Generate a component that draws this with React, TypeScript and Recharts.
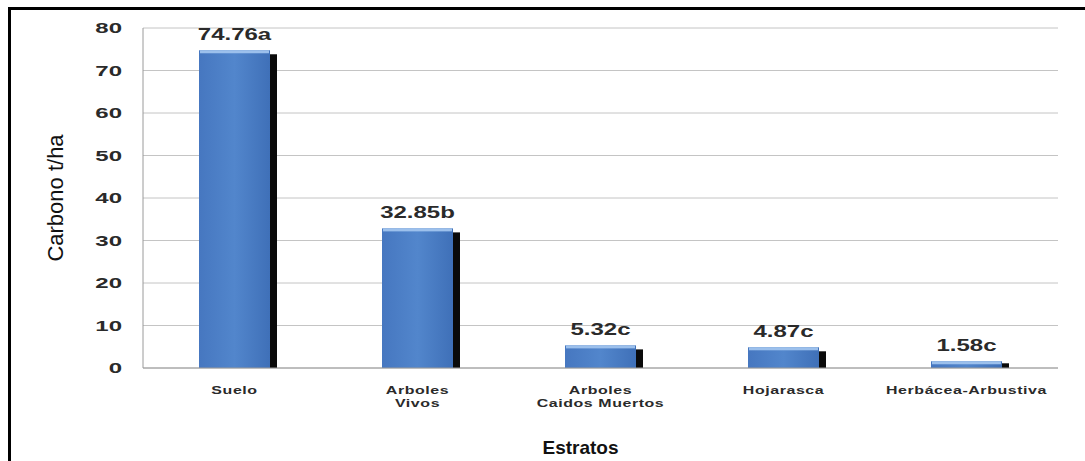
import React from 'react';
import { BarChart, Bar, XAxis, YAxis, CartesianGrid, LabelList } from 'recharts';

const categories = ['Suelo', 'Arboles\nVivos', 'Arboles\nCaidos Muertos', 'Hojarasca', 'Herbácea-Arbustiva'];
const carbono = [74.76, 32.85, 5.32, 4.87, 1.58];
const letters = ['a', 'b', 'c', 'c', 'c'];
const yTicks = [0, 10, 20, 30, 40, 50, 60, 70, 80];

const data = categories.map((c, i) => ({ cat: c, value: carbono[i], label: `${carbono[i].toFixed(2)}${letters[i]}` }));

const FONT = 'Liberation Sans, Arial, sans-serif';

const BarShape = (props: any) => {
  const { x, y, width, height } = props;
  if (height <= 0) return null;
  const sh = Math.min(4, height * 0.3);
  return (
    <g>
      <rect x={x + 7} y={y + sh} width={width} height={height - sh} fill="#0a0a0a" />
      <rect x={x} y={y} width={width} height={height} fill="url(#barGrad)" />
      <rect x={x + 1} y={y} width={width - 2} height={Math.min(3, height)} fill="#9cc0ec" />
    </g>
  );
};

const XTick = (props: any) => {
  const { x, y, payload } = props;
  const lines = String(payload.value).split('\n');
  return (
    <g transform={`translate(${x},${y}) scale(1.45,1)`}>
      <text x={0} y={0} textAnchor="middle" fontFamily={FONT} fontSize={11} fontWeight="bold" fill="#2a2a2a" letterSpacing={0.4}>
        {lines.map((l, i) => (
          <tspan key={i} x={0} dy={i === 0 ? 18 : 13}>{l}</tspan>
        ))}
      </text>
    </g>
  );
};

const YTick = (props: any) => {
  const { x, y, payload } = props;
  return (
    <g transform={`translate(${x},${y}) scale(1.6,1)`}>
      <text x={0} y={0} dy="0.36em" textAnchor="end" fontFamily={FONT} fontSize={15} fontWeight="bold" fill="#2a2a2a">
        {payload.value}
      </text>
    </g>
  );
};

const ValueLabel = (props: any) => {
  const { x, y, width, value } = props;
  const cx = x + width / 2;
  return (
    <g transform={`translate(${cx},${y - 10}) scale(1.5,1)`}>
      <text x={0} y={0} textAnchor="middle" fontFamily={FONT} fontSize={16} fontWeight="bold" fill="#2a2a2a">
        {value}
      </text>
    </g>
  );
};

export default function App() {
  return (
    <div style={{ position: 'absolute', left: 0, top: 0, width: 1085, height: 461, background: '#fff' }}>
      <div style={{ position: 'absolute', left: 8, top: 7, width: 1077, height: 454, borderTop: '3px solid #000', borderLeft: '3px solid #000', boxSizing: 'border-box' }} />
      <BarChart width={1085} height={461} data={data} margin={{ top: 28, right: 27, bottom: 0, left: 0 }} barCategoryGap={56}>
        <defs>
          <linearGradient id="barGrad" x1="0" y1="0" x2="1" y2="0">
            <stop offset="0%" stopColor="#4677c0" />
            <stop offset="50%" stopColor="#5286cc" />
            <stop offset="100%" stopColor="#3f70b8" />
          </linearGradient>
        </defs>
        <CartesianGrid vertical={false} stroke="#c4c4c4" />
        <YAxis
          width={143}
          domain={[0, 80]}
          ticks={yTicks}
          tickLine={false}
          axisLine={{ stroke: '#9a9a9a' }}
          tickMargin={15}
          tick={<YTick />}
          label={{ value: 'Carbono t/ha', angle: -90, position: 'insideLeft', dx: 50, dy: 0, style: { fontFamily: FONT, fontSize: 22, fill: '#111', textAnchor: 'middle' } }}
        />
        <XAxis
          dataKey="cat"
          tickLine={false}
          axisLine={{ stroke: '#9a9a9a' }}
          tick={<XTick />}
          interval={0}
          height={93}
          label={{ value: 'Estratos', position: 'insideBottom', offset: 7, dx: -20, style: { fontFamily: FONT, fontSize: 19, fontWeight: 'bold', fill: '#111' } }}
        />
        <Bar dataKey="value" isAnimationActive={false} shape={<BarShape />}>
          <LabelList dataKey="label" content={<ValueLabel />} />
        </Bar>
      </BarChart>
    </div>
  );
}
